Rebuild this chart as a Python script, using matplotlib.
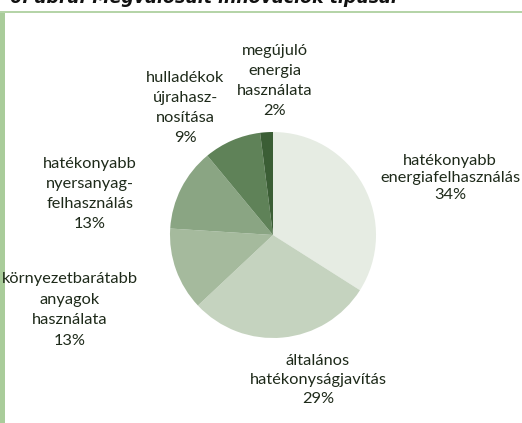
import matplotlib.pyplot as plt
from matplotlib.patches import Rectangle

# data
labels = ['hatékonyabb\nenergiafelhasználás', 'általános\nhatékonyságjavítás',
          'környezetbarátabb\nanyagok\nhasználata', 'hatékonyabb\nnyersanyag-\nfelhasználás',
          'hulladékok\nújrahasz-\nnosítása', 'megújuló\nenergia\nhasználata']
shares = [34, 29, 13, 13, 9, 2]
colors = ['#e6ece3', '#c5d3bf', '#a5ba9d', '#8aa583', '#5f8258', '#3b5e35']

# label centres in pixel coords (x, y from top)
label_pos = [(450, 178), (318, 380), (70, 310), (90, 194), (185, 108), (275, 81)]
spacing = [1.3, 1.45, 1.6, 1.55, 1.55, 1.55]

W, H = 522, 423
fig = plt.figure(figsize=(W / 100, H / 100), dpi=100)
ax = fig.add_axes([0, 0, 1, 1])

ax.pie(shares, colors=colors, startangle=90, counterclock=False,
       center=(273, H - 235), radius=103, frame=True,
       wedgeprops=dict(linewidth=0))

for lab, s, (x, y), ls in zip(labels, shares, label_pos, spacing):
    ax.text(x, H - y, f'{lab}\n{s}%', ha='center', va='center',
            fontsize=11.8, family='Lato', color='#1e2a1a', linespacing=ls)

# frame decoration
ax.add_patch(Rectangle((0, 0), 5, H - 12, color='#a9cc9a', lw=0))
ax.add_patch(Rectangle((0, H - 13), W, 2, color='#b5d4a8', lw=0))
ax.text(10, H - 3, '6. ábra: Megvalósult innovációk típusai', ha='left', va='baseline',
        fontsize=12.5, fontweight='bold', fontstyle='italic', family='DejaVu Sans', color='#111111')

ax.set_xlim(0, W)
ax.set_ylim(0, H)
ax.set_aspect('auto')
ax.axis('off')

fig.savefig('out.png', dpi=100)
